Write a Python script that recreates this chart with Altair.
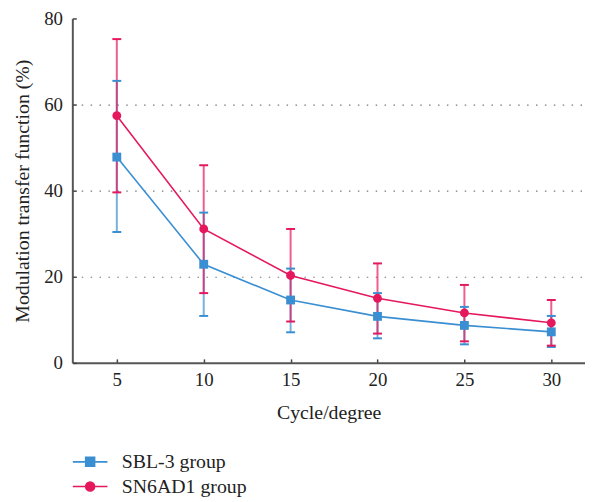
import altair as alt
import pandas as pd

cycles = [5, 10, 15, 20, 25, 30]
series_names = ["SBL-3 group", "SN6AD1 group"]
sbl_mean = [47.8, 22.9, 14.6, 10.8, 8.7, 7.2]
sbl_upper = [65.5, 34.9, 21.9, 16.2, 13.0, 10.9]
sbl_lower = [30.4, 10.9, 7.1, 5.7, 4.3, 3.7]
sn_mean = [57.4, 31.1, 20.3, 15.0, 11.6, 9.3]
sn_upper = [75.2, 45.9, 31.1, 23.1, 18.1, 14.6]
sn_lower = [39.6, 16.2, 9.6, 6.8, 5.0, 4.0]
y_ticks = [0, 20, 40, 60, 80]
colors = ["#3a8fd2", "#e5185e"]

rows = []
for i, c in enumerate(cycles):
    rows.append({"cycle": c, "series": series_names[0], "mean": sbl_mean[i],
                 "upper": sbl_upper[i], "lower": sbl_lower[i]})
for i, c in enumerate(cycles):
    rows.append({"cycle": c, "series": series_names[1], "mean": sn_mean[i],
                 "upper": sn_upper[i], "lower": sn_lower[i]})
df = pd.DataFrame(rows)

FONT = "Liberation Serif"

xscale = alt.Scale(domain=[2.44, 31.94], nice=False, zero=False)
yscale = alt.Scale(domain=[0, 80], nice=False)
cscale = alt.Scale(domain=series_names, range=colors)

x_enc = alt.X("cycle:Q", scale=xscale, title="Cycle/degree",
              axis=alt.Axis(values=cycles, grid=False, tickSize={"expr": "-4"},
                            labelPadding=12, titlePadding=13))
y_enc = alt.Y("mean:Q", scale=yscale, title="Modulation transfer function (%)",
              axis=alt.Axis(values=y_ticks, tickSize={"expr": "-4"}, labelPadding=14,
                            titlePadding=11, grid=True,
                            gridDash=[1.5, 7.5], gridColor="#777", gridWidth=1.2,
                            gridOpacity={"condition": {"test": "datum.value == 0 || datum.value == 80",
                                                       "value": 0}, "value": 1}))

base = alt.Chart(df)

color_enc = alt.Color("series:N", scale=cscale, title=None)

lines = base.mark_line(strokeWidth=1.6).encode(x=x_enc, y=y_enc, color=color_enc)

bars = base.mark_rule(strokeWidth=2, strokeOpacity=0.7).encode(
    x="cycle:Q", y="lower:Q", y2="upper:Q", color=color_enc)
cap_up = base.mark_tick(orient="horizontal", size=9, thickness=2, opacity=1).encode(
    x="cycle:Q", y="upper:Q", color=color_enc)
cap_lo = base.mark_tick(orient="horizontal", size=9, thickness=2, opacity=1).encode(
    x="cycle:Q", y="lower:Q", color=color_enc)

pts_sq = base.transform_filter(alt.datum.series == series_names[0]).mark_point(
    shape="square", filled=True, size=80, opacity=1).encode(
    x="cycle:Q", y="mean:Q", color=color_enc)
pts_ci = base.transform_filter(alt.datum.series == series_names[1]).mark_point(
    shape="circle", filled=True, size=80, opacity=1).encode(
    x="cycle:Q", y="mean:Q", color=color_enc)

sq_path = "M-1.75,0H1.75M-0.45,-0.45H0.45V0.45H-0.45Z"
ci_path = "M-1.75,0H1.75M0.45,0A0.45,0.45,0,1,1,-0.45,0A0.45,0.45,0,1,1,0.45,0Z"

legend_layer = base.mark_point(filled=True, opacity=0).encode(
    x="cycle:Q", y="mean:Q",
    color=color_enc,
    shape=alt.Shape("series:N", scale=alt.Scale(domain=series_names, range=[sq_path, ci_path]),
                    title=None,
                    legend=alt.Legend(orient="none", legendX=7, legendY=437, title=None,
                                      symbolSize=400, symbolStrokeWidth=1.6,
                                      symbolOpacity=1, labelFont=FONT, labelFontSize=20,
                                      labelColor="#222", labelOffset=21, rowPadding=4,
                                      padding=0, offset=0)),
)

chart = alt.layer(lines, bars, cap_up, cap_lo, pts_sq, pts_ci, legend_layer).properties(
    width=518, height=348,
    padding={"left": 65, "top": 8, "right": 0, "bottom": 135},
    autosize=alt.AutoSizeParams(type="none"),
).configure_view(stroke=None).configure_axis(
    labelFont=FONT, labelFontSize=19, labelColor="#222",
    titleFont=FONT, titleFontSize=20, titleFontWeight="normal", titleColor="#222",
    domainColor="#555", domainWidth=2, tickColor="#444", tickWidth=1.5,
)

chart.save("out.html", embed_options={"renderer": "svg", "actions": False})
